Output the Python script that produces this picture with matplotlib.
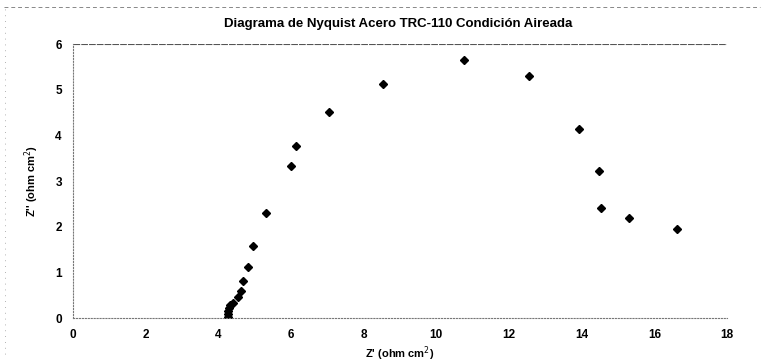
import matplotlib
matplotlib.use('Agg')
import matplotlib.pyplot as plt
from matplotlib.lines import Line2D

plt.rcParams['font.family'] = ['Liberation Sans', 'DejaVu Sans']

# Nyquist data
z_real = [4.27, 4.27, 4.28, 4.30, 4.33, 4.40, 4.54, 4.63, 4.69, 4.81, 4.95, 5.31,
          6.00, 6.13, 7.04, 8.53, 10.75, 12.54, 13.92, 14.49, 14.52, 15.31, 16.63]
z_imag = [0.02, 0.08, 0.15, 0.22, 0.28, 0.34, 0.46, 0.60, 0.82, 1.12, 1.58, 2.30,
          3.34, 3.76, 4.52, 5.13, 5.65, 5.30, 4.13, 3.21, 2.40, 2.18, 1.96]
x_ticks = [0, 2, 4, 6, 8, 10, 12, 14, 16, 18]
y_ticks = [0, 1, 2, 3, 4, 5, 6]

fig = plt.figure(figsize=(7.64, 3.61), dpi=100)
ax = fig.add_axes([0.0955, 0.119, 0.856, 0.759])

ax.plot(z_real, z_imag, linestyle='none', marker='D', markersize=4.5,
        color='black', markeredgecolor='black')

ax.set_xlim(0, 18)
ax.set_ylim(0, 6)
ax.set_xticks(x_ticks)
ax.set_yticks(y_ticks)
ax.tick_params(axis='both', labelsize=8.5, length=0, pad=8)
for lbl in ax.get_xticklabels() + ax.get_yticklabels():
    lbl.set_fontweight('bold')

# only the top gridline shows in the scan, axes are faint dotted
ax.axhline(6, color='#555555', linewidth=0.8, linestyle=(0, (6, 1)))
for side in ['top', 'right']:
    ax.spines[side].set_visible(False)
ax.spines['left'].set_linestyle(':')
ax.spines['bottom'].set_linestyle(':')
ax.spines['left'].set_color('#777777')
ax.spines['bottom'].set_color('#777777')

ax.set_xlabel("Z' (ohm cm$^2$)", fontsize=8, fontweight='bold', labelpad=2)
ax.set_ylabel("Z'' (ohm cm$^2$)", fontsize=8, fontweight='bold', labelpad=10)
fig.text(0.521, 0.934, 'Diagrama de Nyquist Acero TRC-110 Condición Aireada',
         ha='center', va='center', fontsize=9.5, fontweight='bold')

# faint chart-area border left from the scan
fig.add_artist(Line2D([0.005, 0.995], [0.98, 0.98], transform=fig.transFigure,
                      color='#888888', linewidth=0.7, linestyle=(0, (4, 3))))
fig.add_artist(Line2D([0.007, 0.007], [0.02, 0.98], transform=fig.transFigure,
                      color='#999999', linewidth=0.6, linestyle=(0, (1, 6))))

plt.savefig('out.png', dpi=100)
